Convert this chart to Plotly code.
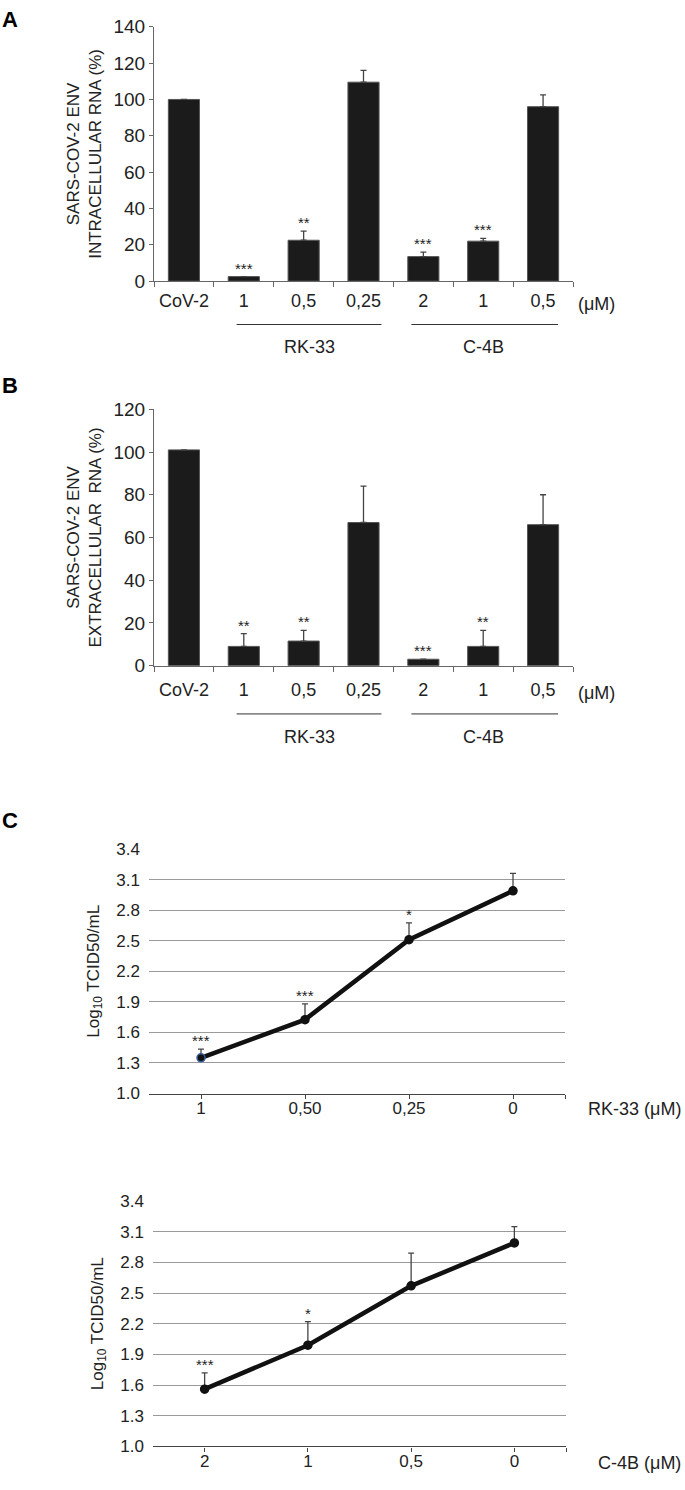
import plotly.graph_objects as go

# ---------------- data ----------------
bar_labels = ["CoV-2", "1", "0,5", "0,25", "2", "1", "0,5"]
A_vals = [100, 2.5, 22.5, 109.5, 13.5, 22, 96]
A_err = [None, None, 5, 6.5, 2.5, 1.5, 6.5]
A_stars = ["", "***", "**", "", "***", "***", ""]

B_vals = [101, 9, 11.5, 67, 3, 9, 66]
B_err = [None, 6, 5, 17, None, 7.5, 14]
B_stars = ["", "**", "**", "", "***", "**", ""]

C1_labels = ["1", "0,50", "0,25", "0"]
C1_vals = [1.35, 1.725, 2.51, 2.99]
C1_err = [0.085, 0.155, 0.165, 0.17]
C1_stars = ["***", "***", "*", ""]

C2_labels = ["2", "1", "0,5", "0"]
C2_vals = [1.56, 1.99, 2.57, 2.99]
C2_err = [0.16, 0.23, 0.32, 0.16]
C2_stars = ["***", "*", "", ""]

# ---------------- layout helpers ----------------
W, H = 685, 1490
FONT = "Liberation Sans, Arial, sans-serif"
AX = "#666666"
TXT = "#222222"


def px_x(p):
    return p / W


def px_y(p):
    return 1 - p / H


def paper_text(x, y, text, size, xanchor="center", color=TXT):
    fig.add_annotation(x=px_x(x), y=px_y(y), xref="paper", yref="paper",
                       text=text, showarrow=False, xanchor=xanchor, yanchor="middle",
                       font=dict(family=FONT, size=size, color=color))


fig = go.Figure()
idx7 = list(range(7))


def add_bar_panel(n, vals, err, stars, ymax, title, ydom, lbl_standoff,
                  line_y, group_y, um_y):
    xa = "x" if n == 1 else f"x{n}"
    ya = "y" if n == 1 else f"y{n}"
    fig.add_trace(go.Bar(
        x=idx7, y=vals, width=0.52,
        marker=dict(color="#1b1b1b", line=dict(color="#555555", width=1)),
        error_y=dict(type="data", symmetric=False,
                     array=[e if e is not None else 0 for e in err],
                     arrayminus=[0] * 7,
                     visible=True, color="#444444", thickness=1.3, width=3),
        xaxis=xa, yaxis=ya, showlegend=False, hoverinfo="skip"))
    fig.update_layout(**{
        ("xaxis" if n == 1 else f"xaxis{n}"): dict(
            domain=[px_x(154), px_x(573)], anchor=ya, range=[-0.5, 6.5],
            showline=True, linecolor=AX, linewidth=1.2, zeroline=False,
            showgrid=False, tickmode="array", tickvals=idx7, ticktext=bar_labels,
            ticks="", ticklabelstandoff=lbl_standoff,
            tickfont=dict(family=FONT, size=18, color=TXT),
            minor=dict(tickmode="array", tickvals=[i - 0.5 for i in range(8)],
                       ticks="outside", ticklen=5, tickcolor=AX, tickwidth=1.2)),
        ("yaxis" if n == 1 else f"yaxis{n}"): dict(
            domain=ydom, anchor=xa, range=[0, ymax], dtick=20,
            showline=True, linecolor=AX, linewidth=1.2, zeroline=False,
            showgrid=False, ticks="outside", ticklen=4, tickcolor=AX,
            tickfont=dict(family=FONT, size=19, color=TXT),
            title=dict(text=title, standoff=7,
                       font=dict(family=FONT, size=17, color=TXT))),
    })
    for i, s in enumerate(stars):
        if s:
            top = vals[i] + (err[i] or 0)
            fig.add_annotation(x=i, y=top, xref=xa, yref=ya, text=s,
                               showarrow=False, yanchor="bottom", yshift=-2,
                               font=dict(family=FONT, size=15, color=TXT))
    for x0, x1, name, xc in [(0.88, 3.3, "RK-33", 2.1), (3.8, 6.25, "C-4B", 5.0)]:
        fig.add_shape(type="line", xref=xa, yref="paper", x0=x0, x1=x1,
                      y0=px_y(line_y), y1=px_y(line_y),
                      line=dict(color="#333333", width=1))
        fig.add_annotation(x=xc, y=px_y(group_y), xref=xa, yref="paper", text=name,
                           showarrow=False, xanchor="center", yanchor="middle",
                           font=dict(family=FONT, size=18, color=TXT))
    paper_text(596, um_y, "(μM)", 18)


add_bar_panel(1, A_vals, A_err, A_stars, 140,
              "SARS-COV-2 ENV<br>INTRACELLULAR RNA (%)",
              [px_y(275), px_y(17)], 3, 319, 342, 298)
add_bar_panel(2, B_vals, B_err, B_stars, 120,
              "SARS-COV-2 ENV<br>EXTRACELLULAR  RNA (%)",
              [px_y(665), px_y(405)], 8, 714, 737, 693)


def add_line_panel(n, labels, vals, err, stars, xdom, ydom, xlabel, lbl_y, first_edge):
    xa = f"x{n}"
    ya = f"y{n}"
    idx = list(range(len(labels)))
    fig.add_trace(go.Scatter(
        x=idx, y=vals, mode="lines+markers",
        line=dict(color="#111111", width=4.5),
        marker=dict(size=8, color="#111111",
                    line=dict(color=[first_edge, "#111111", "#111111", "#111111"], width=1.5)),
        error_y=dict(type="data", symmetric=False, array=err, arrayminus=[0] * 4,
                     color="#444444", thickness=1.3, width=3),
        xaxis=xa, yaxis=ya, showlegend=False, hoverinfo="skip"))
    fig.update_layout(**{
        f"xaxis{n}": dict(
            domain=xdom, anchor=ya, range=[-0.5, 3.5],
            showline=True, linecolor="#444444", linewidth=1.2, zeroline=False,
            showgrid=False, tickmode="array", tickvals=idx, ticktext=labels,
            ticks="outside", ticklen=4, tickcolor="#444444", ticklabelstandoff=-5,
            tickfont=dict(family=FONT, size=17, color=TXT),
            minor=dict(tickmode="array", tickvals=[3.5], ticks="outside",
                       ticklen=4, tickcolor="#444444")),
        f"yaxis{n}": dict(
            domain=ydom, anchor=xa, range=[1.0, 3.4], tick0=1.0, dtick=0.3,
            tickformat=".1f", showline=False, zeroline=False,
            showgrid=True, gridcolor="#9a9a9a", gridwidth=1, ticks="",
            ticklabelstandoff=8,
            tickfont=dict(family=FONT, size=17, color=TXT),
            title=dict(text="Log<sub>10</sub> TCID50/mL", standoff=12,
                       font=dict(family=FONT, size=17, color=TXT))),
    })
    for i, s in enumerate(stars):
        if s:
            fig.add_annotation(x=i, y=vals[i] + err[i], xref=xa, yref=ya, text=s,
                               showarrow=False, yanchor="bottom", yshift=-2,
                               font=dict(family=FONT, size=15, color=TXT))
    paper_text(683, lbl_y, xlabel, 18, xanchor="right")


add_line_panel(3, C1_labels, C1_vals, C1_err, C1_stars,
               [px_x(149), px_x(565)], [px_y(1099), px_y(851)],
               "RK-33 (μM)", 1115, "#3a5f9a")
add_line_panel(4, C2_labels, C2_vals, C2_err, C2_stars,
               [px_x(153), px_x(566)], [px_y(1457), px_y(1208)],
               "C-4B (μM)", 1474, "#111111")

for letter, yp in [("A", 10), ("B", 381), ("C", 822)]:
    paper_text(0, yp, f"<b>{letter}</b>", 22, xanchor="left", color="#000000")

fig.update_layout(width=W, height=H, margin=dict(l=0, r=0, t=0, b=0),
                  paper_bgcolor="white", plot_bgcolor="white",
                  font=dict(family=FONT, color=TXT))

fig.write_html(
    "out.html",
    config={"displayModeBar": False},
    post_script="document.body.style.margin='0';"
                "document.documentElement.style.overflow='hidden';",
)
